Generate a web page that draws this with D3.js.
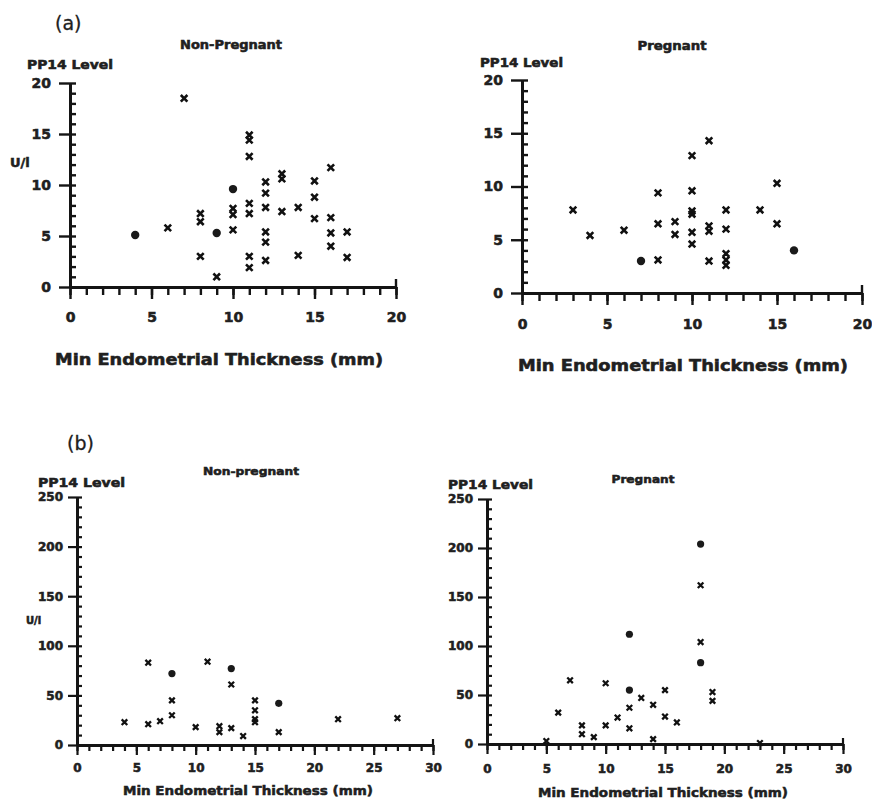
<!DOCTYPE html>
<html>
<head>
<meta charset="utf-8">
<script src="https://cdn.jsdelivr.net/npm/d3@7"></script>
<style>
  body { margin: 0; background: #fff; }
  svg { display: block; }
  text { font-family: "DejaVu Sans", "Liberation Sans", Arial, sans-serif; font-weight: bold; fill: #202020; stroke: #202020; stroke-width: 0.55px; }
</style>
</head>
<body>
<svg id="chart" width="872" height="801"></svg>
<script>
// PP14 level against minimum endometrial thickness, by outcome.
// Each point is [thickness (mm), PP14 level (U/l)].

// (a) level range 0-20 U/l
const thicknessTicksA = [0, 5, 10, 15, 20];
const levelTicksA = [0, 5, 10, 15, 20];

const nonPregnantA = [
  [6, 5.8], [7, 18.5], [8, 7.2], [8, 6.4], [8, 3.0], [9, 1.0],
  [10, 7.7], [10, 7.1], [10, 5.6],
  [11, 14.9], [11, 14.4], [11, 12.8], [11, 8.2], [11, 7.2], [11, 3.0], [11, 1.9],
  [12, 10.3], [12, 9.2], [12, 7.8], [12, 5.4], [12, 4.4], [12, 2.6],
  [13, 11.1], [13, 10.6], [13, 7.4], [14, 7.8], [14, 3.1],
  [15, 10.4], [15, 8.8], [15, 6.7],
  [16, 11.7], [16, 6.8], [16, 5.3], [16, 4.0], [17, 5.4], [17, 2.9]
];
const nonPregnantA_dots = [[4, 5.1], [9, 5.3], [10, 9.6]];

const pregnantA = [
  [3, 7.8], [4, 5.4], [6, 5.9], [8, 9.4], [8, 6.5], [8, 3.1], [9, 6.7], [9, 5.5],
  [10, 12.9], [10, 9.6], [10, 7.7], [10, 7.4], [10, 5.7], [10, 4.6],
  [11, 14.3], [11, 6.3], [11, 5.8], [11, 3.0],
  [12, 7.8], [12, 6.0], [12, 3.7], [12, 3.1], [12, 2.6],
  [14, 7.8], [15, 10.3], [15, 6.5]
];
const pregnantA_dots = [[7, 3.0], [16, 4.0]];

// (b) level range 0-250 U/l
const thicknessTicksB = [0, 5, 10, 15, 20, 25, 30];
const levelTicksB = [0, 50, 100, 150, 200, 250];

const nonPregnantB = [
  [4, 23], [6, 83], [6, 21], [7, 24], [8, 45], [8, 30], [10, 18], [11, 84],
  [12, 19], [12, 13], [13, 61], [13, 17], [14, 9],
  [15, 45], [15, 35], [15, 26], [15, 23], [17, 13], [22, 26], [27, 27]
];
const nonPregnantB_dots = [[8, 72], [13, 77], [17, 42]];

const pregnantB = [
  [5, 3], [6, 32], [7, 65], [8, 19], [8, 10], [9, 7], [10, 62], [10, 19], [11, 27],
  [12, 37], [12, 16], [13, 47], [14, 40], [14, 5], [15, 55], [15, 28], [16, 22],
  [18, 162], [18, 104], [19, 53], [19, 44], [23, 1]
];
const pregnantB_dots = [[12, 112], [12, 55], [18, 204], [18, 83]];

const ink = "#141414";
const svg = d3.select("#chart");

function drawPanel(p) {
  const g = svg.append("g");
  const x = d3.scaleLinear().domain([0, p.xTicks[p.xTicks.length - 1]]).range(p.xRange);
  const y = d3.scaleLinear().domain([0, p.yTicks[p.yTicks.length - 1]]).range(p.yRange);
  const xMax = x.domain()[1], yMax = y.domain()[1];

  // x axis: minor ticks every mm, major ticks with labels every 5 mm
  const xMinor = d3.axisBottom(x)
    .tickValues(d3.range(0, xMax + 0.001, 1))
    .tickSize(p.xMinorLen).tickSizeOuter(0).tickFormat("");
  const xMajor = d3.axisBottom(x)
    .tickValues(p.xTicks)
    .tickSize(p.xMajorLen).tickSizeOuter(0).tickPadding(p.xPad);
  const gxMinor = g.append("g").attr("transform", `translate(0,${p.yRange[0]})`).call(xMinor);
  const gxMajor = g.append("g").attr("transform", `translate(0,${p.yRange[0]})`).call(xMajor);

  // y axis: minor ticks inside, major ticks outside with labels
  const yMinor = d3.axisRight(y)
    .tickValues(d3.range(0, yMax + 0.001, p.yMinorStep))
    .tickSize(p.yMinorLen).tickSizeOuter(0).tickFormat("");
  const yMajor = d3.axisLeft(y)
    .tickValues(p.yTicks)
    .tickSize(p.yMajorLen).tickSizeOuter(0).tickPadding(p.yPad);
  const gyMinor = g.append("g").attr("transform", `translate(${p.xRange[0]},0)`).call(yMinor);
  const gyMajor = g.append("g").attr("transform", `translate(${p.xRange[0]},0)`).call(yMajor);

  [gxMinor, gxMajor, gyMinor, gyMajor].forEach(a => {
    a.attr("color", ink);
    a.selectAll(".domain").style("stroke-width", p.axisWidth + "px");
    a.selectAll(".tick line").style("stroke-width", p.tickWidth + "px");
    a.selectAll(".tick text").style("font-size", p.tickFont + "px");
  });

  // closing tick at the far end of the x axis
  g.append("line")
    .attr("x1", x(xMax)).attr("x2", x(xMax))
    .attr("y1", y(0)).attr("y2", y(0) - p.xMinorLen)
    .style("stroke", ink).style("stroke-width", p.tickWidth + "px");

  // markers
  const cross = d3.symbol(d3.symbolTimes, p.markSize);
  g.append("g").selectAll("path").data(p.points).join("path")
    .attr("d", cross)
    .attr("transform", d => `translate(${x(d[0])},${y(d[1])})`)
    .style("fill", "none").style("stroke", "#111").style("stroke-width", p.markStroke + "px");
  g.append("g").selectAll("circle").data(p.dots).join("circle")
    .attr("cx", d => x(d[0])).attr("cy", d => y(d[1])).attr("r", p.dotR)
    .style("fill", "#1a1a1a");

  // texts
  g.append("text").attr("x", p.titlePos[0]).attr("y", p.titlePos[1])
    .attr("text-anchor", "middle").style("font-size", p.titleFont + "px")
    .attr("textLength", p.titleLen).attr("lengthAdjust", "spacingAndGlyphs")
    .text(p.title);
  g.append("text").attr("x", p.yTitlePos[0]).attr("y", p.yTitlePos[1])
    .style("font-size", p.yTitleFont + "px")
    .attr("textLength", p.yTitleLen).attr("lengthAdjust", "spacingAndGlyphs")
    .text("PP14 Level");
  g.append("text").attr("x", p.xTitlePos[0]).attr("y", p.xTitlePos[1])
    .attr("text-anchor", "middle").style("font-size", p.xTitleFont + "px")
    .attr("textLength", p.xTitleLen).attr("lengthAdjust", "spacingAndGlyphs")
    .text("Min Endometrial Thickness (mm)");
  if (p.unitPos) {
    g.append("text").attr("x", p.unitPos[0]).attr("y", p.unitPos[1])
      .style("font-size", p.unitFont + "px")
      .text("U/l");
  }
}

// figure part letters
svg.append("text").attr("x", 55).attr("y", 30)
  .style("font-size", "19px").style("font-weight", "normal").style("stroke-width", "0.3px").text("(a)");
svg.append("text").attr("x", 67).attr("y", 450)
  .style("font-size", "19px").style("font-weight", "normal").style("stroke-width", "0.3px").text("(b)");

const styleA = {
  xTicks: thicknessTicksA, yTicks: levelTicksA, yMinorStep: 1,
  xMinorLen: 8, xMajorLen: 12, yMinorLen: 6, yMajorLen: 11,
  axisWidth: 3, tickWidth: 2.4, tickFont: 14, xTitleFont: 16,
  titleFont: 12, yTitleFont: 12, markSize: 30, markStroke: 2.6, dotR: 4.2
};
const styleB = {
  xTicks: thicknessTicksB, yTicks: levelTicksB, yMinorStep: 10,
  xMinorLen: 6, xMajorLen: 10, yMinorLen: 5, yMajorLen: 9,
  axisWidth: 3, tickWidth: 2.2, tickFont: 12, xTitleFont: 13,
  titleFont: 11, yTitleFont: 12, markSize: 22, markStroke: 2.3, dotR: 3.6
};

drawPanel(Object.assign({}, styleA, {
  xRange: [70, 396], yRange: [287, 83], xPad: 13, yPad: 8,
  points: nonPregnantA, dots: nonPregnantA_dots,
  title: "Non-Pregnant", titlePos: [231, 49], titleLen: 102,
  yTitlePos: [27, 69], yTitleLen: 86,
  xTitlePos: [219, 365], xTitleLen: 328,
  unitPos: [10, 167], unitFont: 13
}));

drawPanel(Object.assign({}, styleA, {
  xRange: [522, 862], yRange: [293, 80], xPad: 14, yPad: 8,
  points: pregnantA, dots: pregnantA_dots,
  title: "Pregnant", titlePos: [672, 50], titleLen: 69,
  yTitlePos: [480, 67], yTitleLen: 83,
  xTitlePos: [683, 371], xTitleLen: 330
}));

drawPanel(Object.assign({}, styleB, {
  xRange: [77, 433], yRange: [745, 497], xPad: 8, yPad: 5,
  points: nonPregnantB, dots: nonPregnantB_dots,
  title: "Non-pregnant", titlePos: [251, 475], titleLen: 96,
  yTitlePos: [38, 487], yTitleLen: 87,
  xTitlePos: [248, 795], xTitleLen: 250,
  unitPos: [26, 624], unitFont: 10
}));

drawPanel(Object.assign({}, styleB, {
  xRange: [487, 843], yRange: [744, 499], xPad: 10, yPad: 5,
  points: pregnantB, dots: pregnantB_dots,
  title: "Pregnant", titlePos: [643, 483], titleLen: 63,
  yTitlePos: [448, 489], yTitleLen: 85,
  xTitlePos: [663, 797], xTitleLen: 250
}));
</script>
</body>
</html>
